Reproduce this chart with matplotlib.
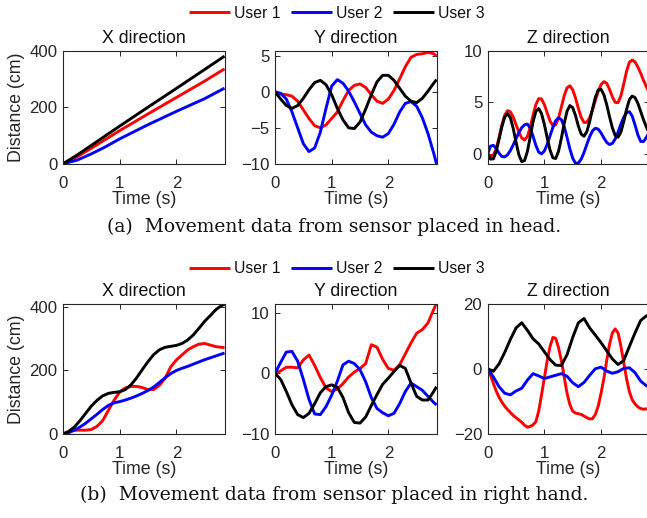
import numpy as np
import matplotlib
matplotlib.use("Agg")
import matplotlib.pyplot as plt

# ---------------- data ----------------
users = ["User 1", "User 2", "User 3"]
colors = ["#ff0000", "#0000ff", "#000000"]

# time grids (s)
t10 = np.append(np.round(np.arange(0, 2.81, 0.1), 2), 2.85)
t05 = np.round(np.linspace(0, 2.85, 58), 2)

# (a) head sensor
hx_t = [0, 0.25, 0.5, 0.75, 1.0, 1.5, 2.0, 2.5, 2.85]
hx_u1 = [0, 25, 55, 86, 117, 176, 234, 292, 335]
hx_u2 = [0, 13, 35, 60, 88, 138, 185, 230, 267]
hx_u3 = [0, 31, 65, 99, 133, 200, 266, 333, 380]

hy_u1 = [0, -0.3, -0.4, -0.6, -1.3, -2.5, -3.7, -4.7, -5.0, -4.6, -3.7, -2.8, -1.2, 0.2, 0.9,
         1.1, 0.6, -0.4, -1.3, -1.6, -1.0, 0.2, 1.8, 3.5, 4.8, 5.2, 5.3, 5.5, 5.3, 5.0]
hy_u2 = [0, -0.2, -1.0, -2.8, -5.0, -7.2, -8.3, -7.8, -5.6, -2.3, 0.8, 1.7, 1.2, 0.1, -1.4,
         -3.0, -4.6, -5.6, -6.1, -6.3, -5.8, -4.5, -2.8, -1.6, -1.35, -2.0, -3.6, -5.8, -8.5, -10.0]
hy_u3 = [0, -1.0, -1.9, -2.3, -1.9, -0.9, 0.3, 1.3, 1.6, 1.0, -0.4, -2.3, -3.9, -5.0, -5.1,
         -4.2, -2.4, -0.4, 1.4, 2.3, 2.3, 1.6, 0.5, -0.6, -1.3, -1.5, -0.9, 0.1, 1.2, 1.7]

hz_u1 = [0, -0.25, -0.1, 0.5, 1.6, 2.8, 3.74, 4.19,
         4.07, 3.57, 2.85, 2.11, 1.56, 1.35, 1.68, 2.57,
         3.73, 4.77, 5.35, 5.31, 4.77, 3.97, 3.19, 2.74,
         2.82, 3.48, 4.53, 5.63, 6.39, 6.59, 6.21, 5.40,
         4.40, 3.53, 3.04, 3.08, 3.52, 4.28, 5.18, 6.05,
         6.70, 6.99, 6.83, 6.25, 5.52, 4.99, 4.96, 5.61,
         6.75, 7.98, 8.86, 9.08, 8.9, 8.4, 7.8, 7.1,
         6.5, 5.9]
hz_u2 = [0, 0.75, 0.84, 0.52, 0.08, -0.24, -0.28, -0.08,
         0.33, 0.87, 1.49, 2.06, 2.54, 2.82, 2.89, 2.51,
         1.72, 0.83, 0.18, 0.01, 0.29, 0.93, 1.75, 2.57,
         3.21, 3.49, 3.32, 2.64, 1.61, 0.50, -0.41, -0.90,
         -0.88, -0.50, 0.15, 0.93, 1.68, 2.24, 2.49, 2.40,
         2.04, 1.55, 1.12, 0.91, 1.02, 1.45, 2.12, 2.88,
         3.54, 3.98, 4.09, 3.66, 2.80, 1.85, 1.21, 1.2,
         1.6, 2.1]
hz_u3 = [0, -0.5, -0.47, 0.25, 1.40, 2.63, 3.56, 3.9,
         3.51, 2.48, 1.14, -0.07, -0.74, -0.64, 0.24, 1.64,
         3.10, 4.12, 4.39, 3.90, 2.86, 1.55, 0.38, -0.37,
         -0.44, 0.26, 1.52, 2.96, 4.13, 4.68, 4.48, 3.71,
         2.69, 1.92, 1.71, 2.17, 3.15, 4.37, 5.47, 6.18,
         6.25, 5.73, 4.77, 3.60, 2.53, 1.79, 1.62, 2.10,
         3.12, 4.30, 5.25, 5.6, 5.45, 4.9, 4.1, 3.3,
         2.6, 2.0]

# (b) right-hand sensor
bx_u1 = [0, 8, 12, 12, 12, 14, 24, 42, 74, 106, 132, 145, 150, 150, 146,
         140, 140, 153, 175, 211, 233, 249, 265, 275, 283, 285, 280, 275, 273, 272]
bx_u2 = [0, 4, 12, 22, 34, 48, 62, 77, 90, 98, 102, 107, 113, 120, 128,
         137, 148, 162, 177, 190, 200, 207, 213, 220, 227, 234, 240, 246, 252, 255]
bx_u3 = [0, 8, 22, 42, 65, 88, 106, 120, 128, 131, 133, 140, 155, 177, 203,
         228, 250, 265, 273, 276, 279, 285, 296, 312, 333, 355, 373, 392, 405, 408]

by_u1 = [0, 0.4, 1.0, 1.0, 0.9, 2.2, 3.0, 1.3, -0.7, -2.4, -3.0, -2.6, -1.7, -0.6, 0.2,
         0.8, 1.6, 4.7, 4.3, 2.3, 0.8, 0.5, 1.4, 3.2, 5.0, 6.6, 7.2, 8.3, 10.5, 11.5]
by_u2 = [0, 1.8, 3.5, 3.6, 2.0, -1.0, -4.3, -6.7, -6.8, -5.5, -3.6, -1.3, 1.4, 2.0, 1.6,
         0.6, -1.4, -4.0, -5.8, -6.5, -7.0, -6.6, -5.0, -3.0, -1.6, -2.2, -2.8, -3.8, -4.8, -5.2]
by_u3 = [0, -1.0, -3.0, -5.2, -6.8, -7.3, -6.6, -5.0, -3.2, -2.2, -1.9, -2.3, -4.0, -6.5, -8.1,
         -8.2, -7.2, -5.3, -3.5, -1.8, -0.8, 0.3, 1.3, 0.8, -1.6, -3.8, -4.4, -4.4, -3.0, -2.2]

bz_u1 = [0, -2.0, -4.5, -6.8, -8.7, -10.2, -11.5, -12.5,
         -13.4, -14.3, -15.0, -15.7, -16.4, -17.3, -17.9, -17.7,
         -17.2, -16.2, -13.0, -8.0, -2.8, 2.5, 6.8, 9.6,
         9.3, 6.5, 2.5, -2.5, -7.5, -11.0, -13.0, -13.6,
         -13.8, -14.0, -14.5, -15.0, -15.4, -15.3, -14.0, -11.5,
         -7.5, -3.0, 2.5, 7.5, 11.0, 12.2, 11.0, 7.0,
         2.0, -3.0, -7.0, -9.5, -10.8, -11.7, -12.2, -12.4,
         -12.3, -12.2]
bz_u2 = [0, -2.5, -5.5, -7.5, -8.0, -6.8, -6.0, -3.5, -1.5, -2.2, -3.0, -2.5, -2.0, -1.5, -2.3,
         -4.3, -5.5, -4.2, -2.0, 0.0, 0.5, -0.7, -1.4, -0.9, 0.1, 0.3, -1.2, -3.8, -5.2, -5.5]
bz_u3 = [0, -0.8, 1.5, 5.0, 9.0, 12.5, 14.1, 11.8, 9.2, 7.6, 5.2, 2.8, 1.1, 1.0, 4.3,
         9.6, 14.1, 15.4, 12.5, 10.3, 8.0, 5.5, 3.0, 1.3, 2.5, 6.8, 11.0, 14.8, 16.2, 16.3]

titles = ["X direction", "Y direction", "Z direction"]
captions = ["(a)  Movement data from sensor placed in head.",
            "(b)  Movement data from sensor placed in right hand."]

panels = [
    [(hx_t, [hx_u1, hx_u2, hx_u3]), (t10, [hy_u1, hy_u2, hy_u3]), (t05, [hz_u1, hz_u2, hz_u3])],
    [(t10, [bx_u1, bx_u2, bx_u3]), (t10, [by_u1, by_u2, by_u3]),
     ([t05, t10, t10], [bz_u1, bz_u2, bz_u3])],
]
ylims = [[(0, 400), (-10, 5.75), (-0.95, 10)], [(0, 411), (-10, 11.5), (-20, 20)]]
yticks = [[[0, 200, 400], [-10, -5, 0, 5], [0, 5, 10]],
          [[0, 200, 400], [-10, 0, 10], [-20, 0, 20]]]

# ---------------- figure ----------------
W, H = 647, 518
fig = plt.figure(figsize=(W / 100, H / 100), dpi=100)
plt.rcParams["font.family"] = ["Liberation Sans", "DejaVu Sans"]

lefts = [63, 275, 487.7]
width = 161.5
rows = [(50.5, 163.8), (303.5, 434.0)]
gray = "#262626"

legend_y = [13.3, 268.5]
caption_y = [232.0, 500.0]

for r in range(2):
    top, bot = rows[r]
    for c in range(3):
        ax = fig.add_axes([lefts[c] / W, 1 - bot / H, width / W, (bot - top) / H])
        tt, series = panels[r][c]
        lines = []
        for k in range(3):
            tk = tt[k] if isinstance(tt, list) and isinstance(tt[0], (list, np.ndarray)) else tt
            ln, = ax.plot(tk, series[k], color=colors[k], lw=2.1, label=users[k],
                          solid_joinstyle="round", solid_capstyle="butt")
            lines.append(ln)
        ax.set_xlim(0, 2.85)
        ax.set_ylim(*ylims[r][c])
        ax.set_xticks([0, 1, 2])
        ax.set_yticks(yticks[r][c])
        ax.tick_params(direction="in", top=True, right=True, length=3.5, width=0.7,
                       labelsize=12.1, colors=gray, labelcolor=gray)
        ax.tick_params(axis="x", pad=9)
        ax.tick_params(axis="y", pad=4)
        for s in ax.spines.values():
            s.set_color(gray)
            s.set_linewidth(0.8)
        ax.set_title(titles[c], fontsize=12.8, pad=5.5, color="#111111")
        ax.set_xlabel("Time (s)", fontsize=12.8, labelpad=0, color=gray)
        if c == 0:
            ax.set_ylabel("Distance (cm)", fontsize=12.8, labelpad=3, color=gray)
    fig.legend(handles=lines, labels=users, loc="center", ncol=3, frameon=False,
               bbox_to_anchor=(336.7 / W, 1 - legend_y[r] / H), fontsize=11.3,
               handlelength=2.6, handletextpad=0.25, columnspacing=0.7, borderpad=0,
               labelcolor="#111111")
    fig.text(334 / W, 1 - caption_y[r] / H, captions[r], ha="center", va="baseline",
             family="DejaVu Serif", fontsize=13.5, color="#111111")

fig.savefig("out.png", dpi=100)
